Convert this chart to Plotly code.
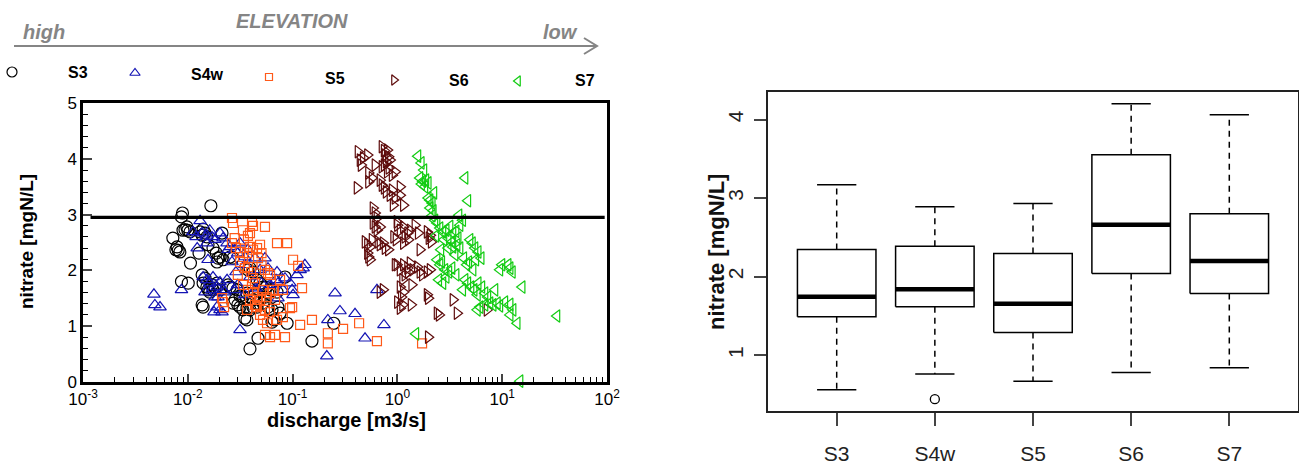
import plotly.graph_objects as go

W, H = 1299, 466

# ---------------- scatter data: discharge [m3/s], nitrate [mgN/L] ----------------
s3_q = [0.0166, 0.0089, 0.0087, 0.0098, 0.0100, 0.0094, 0.0105, 0.0090, 0.0072, 0.0079,
        0.0077, 0.0084, 0.0081, 0.0106, 0.0087, 0.0101, 0.0131, 0.0140, 0.0137, 0.0152,
        0.0146, 0.0128, 0.0156, 0.0174, 0.0187, 0.0203, 0.0194, 0.0190, 0.0217, 0.0212,
        0.0253, 0.0270, 0.0140, 0.0152, 0.0156, 0.0162, 0.0174, 0.0182, 0.0190, 0.0203,
        0.0170, 0.0140, 0.0137, 0.0137, 0.0146, 0.0253, 0.0270, 0.0295, 0.0270, 0.0300,
        0.0315, 0.0336, 0.0367, 0.0392, 0.0419, 0.0458, 0.0489, 0.0545, 0.0582, 0.0650,
        0.0710, 0.0375, 0.0392, 0.0419, 0.0458, 0.0489, 0.0522, 0.0367, 0.0336, 0.0392,
        0.0438, 0.0419, 0.0458, 0.0522, 0.0582, 0.0636, 0.0725, 0.0759, 0.0558, 0.0609,
        0.0367, 0.0350, 0.0468, 0.0392, 0.0636, 0.0665, 0.0846, 0.0886, 0.153, 0.247,
        0.0282, 0.0315, 0.0242]
s3_n = [3.16, 3.03, 2.96, 2.78, 2.72, 2.73, 2.69, 2.72, 2.58, 2.42,
        2.37, 2.33, 2.36, 2.13, 1.80, 1.77, 2.69, 2.74, 2.63, 2.60,
        2.67, 2.31, 2.46, 2.40, 2.31, 2.24, 2.22, 2.15, 2.19, 2.67,
        2.24, 2.22, 1.77, 1.70, 1.65, 1.61, 1.65, 1.68, 1.77, 1.65,
        1.74, 1.34, 1.38, 1.92, 1.86, 1.70, 1.68, 1.65, 1.41, 1.38,
        1.34, 1.29, 1.32, 1.29, 1.34, 1.41, 1.47, 1.52, 1.59, 1.65,
        1.61, 2.01, 2.04, 1.97, 1.83, 1.77, 1.70, 1.59, 1.52, 1.52,
        1.56, 1.47, 1.34, 1.41, 1.34, 1.29, 1.34, 1.23, 1.70, 1.65,
        1.11, 1.14, 0.78, 0.59, 1.07, 1.11, 1.88, 1.05, 0.73, 1.05,
        1.47, 1.54, 1.74]

s4w_q = [0.00475, 0.00485, 0.00543, 0.0087, 0.0131, 0.0112, 0.0120, 0.0137, 0.0152, 0.0162,
         0.0170, 0.0182, 0.0203, 0.0217, 0.0237, 0.0152, 0.0253, 0.0280, 0.0315, 0.0300,
         0.0350, 0.0375, 0.0438, 0.0545, 0.0582, 0.0710, 0.0725, 0.0695, 0.0944, 0.0990,
         0.101, 0.110, 0.126, 0.0725, 0.0288, 0.0300, 0.0280, 0.0140, 0.0152, 0.0162,
         0.0174, 0.0190, 0.0203, 0.0217, 0.0170, 0.0146, 0.0194, 0.0225, 0.0237, 0.0182,
         0.0203, 0.0190, 0.0212, 0.0178, 0.0315, 0.254, 0.638, 0.283, 0.394, 0.217,
         0.744, 0.491, 0.212, 0.0123, 0.0264, 0.0350, 0.0489, 0.0392, 0.0505, 0.0448,
         0.0609, 0.0846, 0.0808, 0.118, 0.131, 0.0350, 0.0242, 0.0156]
s4w_n = [1.57, 1.38, 1.34, 1.65, 2.89, 2.69, 2.60, 2.67, 2.63, 2.72,
         2.60, 2.55, 2.67, 2.58, 2.49, 2.49, 2.42, 2.37, 2.49, 2.31,
         2.24, 2.37, 2.22, 2.22, 2.04, 1.97, 1.77, 1.83, 1.77, 1.65,
         1.56, 1.92, 2.04, 1.50, 1.97, 1.74, 1.65, 1.88, 1.83, 1.77,
         1.88, 1.70, 1.79, 1.65, 1.65, 1.61, 1.52, 1.61, 1.83, 1.52,
         1.29, 1.34, 1.25, 1.25, 0.93, 1.59, 1.65, 1.27, 1.22, 1.11,
         1.02, 0.78, 0.46, 2.40, 2.15, 2.10, 2.01, 1.88, 1.77, 1.68,
         1.74, 1.86, 1.65, 2.01, 2.10, 1.56, 2.37, 2.19]

s5_q = [0.0264, 0.0270, 0.0410, 0.0419, 0.0545, 0.0336, 0.0375, 0.0392, 0.0343, 0.0264,
        0.0288, 0.0315, 0.0336, 0.0367, 0.0392, 0.0419, 0.0458, 0.0489, 0.0710, 0.0886,
        0.101, 0.113, 0.123, 0.0505, 0.0545, 0.0582, 0.0609, 0.0212, 0.0217, 0.0222,
        0.0375, 0.0401, 0.0419, 0.0438, 0.0375, 0.0419, 0.0458, 0.0489, 0.0522, 0.0570,
        0.0609, 0.0650, 0.0680, 0.0522, 0.0570, 0.0710, 0.0990, 0.153, 0.118, 0.0545,
        0.0609, 0.0680, 0.0846, 0.0458, 0.0367, 0.431, 0.303, 0.217, 0.217, 0.638,
        1.72, 0.0759, 0.0808, 0.0944, 0.0808, 0.0468, 0.0505, 0.0315, 0.0350, 0.0300,
        0.0438, 0.0545, 0.0609, 0.0489, 0.0392, 0.0336, 0.0280]
s5_n = [2.94, 2.85, 2.87, 2.80, 2.78, 2.72, 2.62, 2.67, 2.55, 2.49,
        2.40, 2.33, 2.24, 2.31, 2.42, 2.37, 2.40, 2.46, 2.49, 2.49,
        2.19, 2.08, 1.68, 2.10, 2.01, 1.95, 1.92, 1.50, 1.43, 1.34,
        2.06, 1.97, 1.86, 1.77, 1.65, 1.59, 1.52, 1.47, 1.65, 1.52,
        1.59, 1.65, 1.47, 1.11, 1.05, 1.11, 1.34, 1.11, 1.02, 0.84,
        0.80, 0.84, 0.80, 1.34, 1.29, 1.05, 0.95, 0.87, 0.69, 0.73,
        0.69, 1.83, 1.65, 1.32, 1.16, 2.22, 2.31, 2.15, 2.04, 1.92,
        1.38, 1.29, 1.25, 1.20, 1.47, 1.74, 2.58]

s6_q = [0.421, 0.440, 0.450, 0.472, 0.518, 0.530, 0.530, 0.412, 0.713, 0.747,
        0.762, 0.80, 0.82, 0.849, 0.747, 0.780, 0.713, 0.83, 0.80, 0.89,
        0.948, 0.682, 0.713, 0.747, 0.78, 0.849, 0.89, 0.948, 1.06, 1.14,
        1.06, 0.585, 0.611, 0.638, 0.585, 0.611, 0.682, 0.638, 0.99, 1.00,
        1.06, 1.14, 1.25, 1.18, 1.27, 1.14, 1.32, 1.47, 1.58, 0.491,
        0.518, 0.548, 0.573, 0.652, 0.682, 0.73, 0.762, 0.82, 0.518, 0.530,
        0.548, 0.92, 0.97, 1.92, 2.0, 2.1, 2.05, 0.99, 1.06, 1.14,
        1.25, 1.32, 1.18, 1.12, 1.27, 1.40, 1.55, 1.64, 1.73, 1.92,
        2.05, 1.06, 1.14, 1.09, 1.00, 1.12, 1.06, 1.35, 1.92, 1.97,
        0.73, 0.682, 2.39, 2.5, 3.71, 3.39, 1.97, 7.16, 0.611, 0.573,
        0.91, 1.64, 1.37, 0.95]
s6_n = [4.13, 3.98, 3.89, 4.02, 4.07, 3.75, 3.59, 3.48, 4.22, 4.15,
        4.07, 4.16, 4.04, 3.98, 3.89, 3.95, 3.86, 3.84, 3.77, 3.71,
        3.77, 3.62, 3.53, 3.48, 3.41, 3.35, 3.44, 3.30, 3.35, 3.17,
        3.50, 3.12, 3.03, 2.94, 2.85, 2.78, 2.78, 2.72, 2.87, 2.81,
        2.72, 2.78, 2.67, 2.60, 2.55, 2.49, 2.72, 2.81, 2.67, 2.51,
        2.46, 2.42, 2.55, 2.51, 2.46, 2.49, 2.40, 2.37, 2.31, 2.24,
        2.19, 2.60, 2.55, 2.69, 2.58, 2.51, 2.63, 2.10, 2.01, 2.10,
        2.04, 2.13, 1.92, 1.83, 1.97, 2.01, 2.06, 1.97, 1.92, 1.97,
        2.01, 1.70, 1.61, 1.52, 1.43, 1.38, 1.32, 1.38, 1.56, 1.50,
        1.65, 1.61, 1.23, 1.20, 1.23, 1.47, 0.80, 1.29, 3.89, 3.66,
        3.17, 2.37, 1.74, 2.10]

s7_q = [1.57, 1.69, 1.64, 1.75, 1.87, 1.70, 1.83, 1.97, 4.42, 4.70,
        1.97, 2.05, 2.15, 2.05, 2.20, 2.15, 2.28, 2.39, 3.87, 4.2,
        3.96, 2.55, 2.72, 2.92, 3.18, 3.39, 3.63, 3.05, 2.78, 3.32,
        3.05, 3.39, 3.71, 3.96, 4.93, 5.2, 5.5, 5.9, 6.3, 5.6,
        2.39, 2.55, 2.65, 2.84, 3.1, 3.32, 3.63, 2.92, 2.48, 2.72,
        9.95, 11.4, 11.9, 12.5, 4.42, 4.7, 5.04, 5.4, 5.9, 6.4,
        6.85, 7.3, 5.8, 15.5, 7.65, 8.2, 9.0, 9.5, 10.6, 11.9,
        12.7, 6.14, 5.8, 6.85, 11.9, 13.9, 33.3, 14.8, 1.5, 3.55,
        4.3, 4.6, 2.33, 3.8, 4.8, 5.27, 9.5, 1.79, 2.23, 2.6,
        4.2, 8.53]
s7_n = [4.05, 3.93, 3.66, 3.60, 3.62, 3.55, 3.50, 3.57, 3.66, 3.25,
        3.30, 3.26, 3.21, 3.12, 3.07, 2.98, 2.90, 2.85, 2.99, 2.90,
        2.81, 2.76, 2.69, 2.72, 2.79, 2.67, 2.70, 2.58, 2.55, 2.51,
        2.40, 2.42, 2.46, 2.40, 2.55, 2.49, 2.40, 2.33, 2.22, 2.19,
        2.19, 2.10, 2.15, 2.01, 1.97, 2.04, 1.92, 1.88, 1.83, 1.77,
        2.10, 2.10, 2.04, 1.97, 1.83, 1.77, 1.70, 1.65, 1.77, 1.70,
        1.59, 1.52, 1.56, 1.70, 1.41, 1.38, 1.41, 1.36, 1.43, 1.39,
        1.29, 1.34, 1.29, 1.38, 1.20, 1.05, 1.18, 0.01, 0.86, 2.28,
        2.22, 2.10, 2.62, 2.58, 2.15, 2.01, 2.01, 3.80, 3.39, 2.37,
        1.65, 1.65]

THRESHOLD = 2.95
THRESHOLD_X = [0.00118, 95]

# ---------------- boxplot statistics ----------------
stations = ["S3", "S4w", "S5", "S6", "S7"]
box_lo = [0.56, 0.76, 0.67, 0.78, 0.84]
box_q1 = [1.49, 1.617, 1.289, 2.04, 1.787]
box_med = [1.745, 1.838, 1.655, 2.66, 2.20]
box_q3 = [2.345, 2.387, 2.294, 3.55, 2.80]
box_hi = [3.17, 2.89, 2.93, 4.20, 4.06]
outlier_station = [2]
outlier_val = [0.44]

series = [
    ("S3", s3_q, s3_n, "circle-open", "#000000", 12),
    ("S4w", s4w_q, s4w_n, "triangle-up-open", "#1414B4", 11),
    ("S5", s5_q, s5_n, "square-open", "#FF5A1A", 9),
    ("S6", s6_q, s6_n, "triangle-right-open", "#5E0C0C", 11),
    ("S7", s7_q, s7_n, "triangle-left-open", "#12CC12", 11),
]

FONT = "Liberation Sans, Arial, sans-serif"

fig = go.Figure()

for name, q, n, sym, col, sz in series:
    fig.add_trace(go.Scatter(
        x=q, y=n, mode="markers", name=name, xaxis="x", yaxis="y",
        marker=dict(symbol=sym, size=sz, color=col, line=dict(color=col, width=1.2)),
        cliponaxis=False, showlegend=False))

fig.add_trace(go.Scatter(
    x=THRESHOLD_X, y=[THRESHOLD, THRESHOLD], mode="lines", xaxis="x", yaxis="y",
    line=dict(color="black", width=3.2), showlegend=False))

# ---------------- boxplot built from statistics ----------------
pos = list(range(1, len(stations) + 1))
hw, sw = 0.4, 0.2
for i, p in enumerate(pos):
    fig.add_trace(go.Scatter(x=[p, p, None, p, p], y=[box_q3[i], box_hi[i], None, box_q1[i], box_lo[i]],
                             mode="lines", xaxis="x2", yaxis="y2",
                             line=dict(color="black", width=1.5, dash="6px,5px"), showlegend=False))
    fig.add_trace(go.Scatter(x=[p - sw, p + sw, None, p - sw, p + sw],
                             y=[box_hi[i], box_hi[i], None, box_lo[i], box_lo[i]],
                             mode="lines", xaxis="x2", yaxis="y2",
                             line=dict(color="black", width=1.5), showlegend=False))
    fig.add_trace(go.Scatter(x=[p - hw, p + hw, p + hw, p - hw, p - hw],
                             y=[box_q1[i], box_q1[i], box_q3[i], box_q3[i], box_q1[i]],
                             mode="lines", xaxis="x2", yaxis="y2",
                             line=dict(color="black", width=1.5), showlegend=False))
    fig.add_trace(go.Scatter(x=[p - hw, p + hw], y=[box_med[i], box_med[i]],
                             mode="lines", xaxis="x2", yaxis="y2",
                             line=dict(color="black", width=4.5), showlegend=False))

fig.add_trace(go.Scatter(x=outlier_station, y=outlier_val, mode="markers", xaxis="x2", yaxis="y2",
                         marker=dict(symbol="circle-open", size=9, color="black", line=dict(width=1.3)),
                         showlegend=False))

# ---------------- legend row (auxiliary overlay axis in pixel space) ----------------
leg_marker_x = [12, 135, 269, 394, 518]
leg_marker_y = [72, 73, 77, 80, 81]
leg_text_x = [78, 207, 335, 459, 585]
leg_text_y = [72, 74, 78, 80, 81]
for k, (name, q, n, sym, col, sz) in enumerate(series):
    fig.add_trace(go.Scatter(x=[leg_marker_x[k]], y=[leg_marker_y[k]], mode="markers",
                             xaxis="x3", yaxis="y3", cliponaxis=False,
                             marker=dict(symbol=sym, size=sz - 2, color=col, line=dict(color=col, width=1.2)),
                             showlegend=False))


def ann(x, y, text, size, color="black", angle=0):
    return dict(x=x / W, y=1 - y / H, xref="paper", yref="paper", text=text,
                xanchor="center", yanchor="middle", textangle=angle, showarrow=False,
                font=dict(family=FONT, size=size, color=color))


annotations = []
for k, (name, *_rest) in enumerate(series):
    annotations.append(ann(leg_text_x[k], leg_text_y[k], f"<b>{name}</b>", 16))

GRAY = "#858585"
annotations += [
    ann(292, 21, "<b><i>ELEVATION</i></b>", 20, GRAY),
    ann(44, 32, "<b><i>high</i></b>", 20, GRAY),
    ann(560, 32, "<b><i>low</i></b>", 20, GRAY),
    ann(27, 242, "<b>nitrate [mgN/L]</b>", 19, angle=-90),
    ann(346, 420, "<b>discharge [m3/s]</b>", 20),
    ann(716, 252, "<b>nitrate [mgN/L]</b>", 22, "#111", angle=-90),
]

shapes = [
    dict(type="line", xref="paper", yref="paper", x0=14 / W, x1=596 / W, y0=1 - 46 / H, y1=1 - 46 / H,
         line=dict(color=GRAY, width=2)),
    dict(type="path", xref="paper", yref="paper",
         path=f"M {584 / W},{1 - 38 / H} L {597 / W},{1 - 46 / H} L {584 / W},{1 - 54 / H}",
         line=dict(color=GRAY, width=2)),
]

decades = [1e-3, 1e-2, 1e-1, 1e0, 1e1, 1e2]
dec_text = ["10<sup>-3</sup>", "10<sup>-2</sup>", "10<sup>-1</sup>", "10<sup>0</sup>", "10<sup>1</sup>", "10<sup>2</sup>"]
minor_x = [m * d for d in decades[:-1] for m in range(2, 10)]
minor_y = [v / 5 for v in range(0, 26) if v % 5 != 0]

fig.update_layout(
    width=W, height=H, margin=dict(l=0, r=0, t=0, b=0),
    paper_bgcolor="white", plot_bgcolor="rgba(0,0,0,0)",
    font=dict(family=FONT, color="black"),
    showlegend=False,
    xaxis=dict(type="log", range=[-3, 2], domain=[83 / W, 607 / W], anchor="y",
               tickvals=decades, ticktext=dec_text, ticks="inside", ticklen=8, tickwidth=1.5,
               minor=dict(tickvals=minor_x, ticks="inside", ticklen=5, tickwidth=1, tickcolor="black"),
               showline=True, linewidth=2.5, linecolor="black", mirror=True, showgrid=False,
               zeroline=False, tickfont=dict(size=17, family=FONT), automargin=False),
    yaxis=dict(range=[0, 5], domain=[1 - 381.7 / H, 1 - 103.3 / H], anchor="x",
               tickvals=[0, 1, 2, 3, 4, 5], ticks="inside", ticklen=9, tickwidth=1.5,
               minor=dict(tickvals=minor_y, ticks="inside", ticklen=5, tickwidth=1, tickcolor="black"),
               showline=True, linewidth=2.5, linecolor="black", mirror=True, showgrid=False,
               zeroline=False, tickfont=dict(size=17, family=FONT), automargin=False),
    xaxis2=dict(range=[0.3, 5.7], domain=[768 / W, 1298 / W], anchor="y2",
                tickvals=pos, ticktext=stations, ticks="outside", ticklen=13, tickwidth=1.5,
                ticklabelstandoff=10,
                showline=True, linewidth=1.5, linecolor="#222", mirror=True, showgrid=False,
                zeroline=False, tickfont=dict(size=21, family=FONT, color="#222"), automargin=False),
    yaxis2=dict(range=[0.29, 4.35], domain=[1 - 411 / H, 1 - 92 / H], anchor="x2",
                tickvals=[1, 2, 3, 4], ticks="outside", ticklen=12, tickwidth=1.5, tickangle=-90,
                ticklabelstandoff=3,
                showline=True, linewidth=1.5, linecolor="#222", mirror=True, showgrid=False,
                zeroline=False, tickfont=dict(size=21, family=FONT, color="#222"), automargin=False),
    xaxis3=dict(range=[0, W], domain=[0, 1], anchor="y3", visible=False, fixedrange=True),
    yaxis3=dict(range=[H, 0], domain=[0, 1], anchor="x3", visible=False, fixedrange=True),
    annotations=annotations,
    shapes=shapes,
)

fig.write_html("out.html", config={"displayModeBar": False},
               post_script="document.body.style.margin='0';document.body.style.overflow='hidden';")
